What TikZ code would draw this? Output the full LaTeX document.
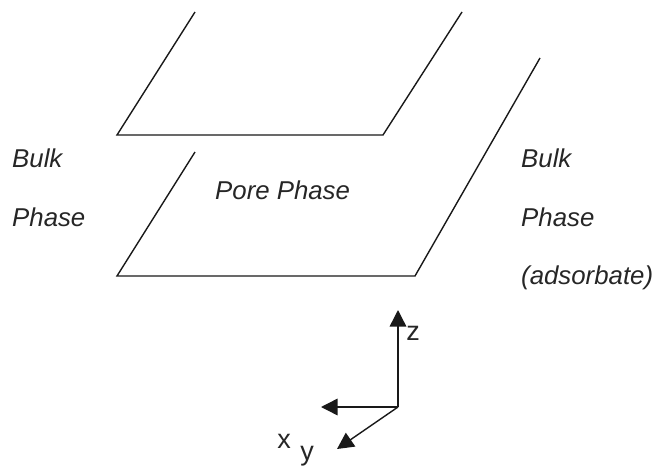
\documentclass[tikz,border=0pt]{standalone}
\usepackage{fontspec}
\setmainfont{Liberation Sans}
\usetikzlibrary{arrows.meta}
\tikzset{
    wall/.style={line width=1.4pt, black!90},
    axis/.style={line width=1.4pt, black!90, -{Triangle[length=16.5pt,width=16.5pt]}},
    phase/.style={anchor=base west, inner sep=0pt, font=\fontsize{25.8}{25.8}\selectfont\itshape, black!85},
    axlabel/.style={inner sep=0pt, font=\fontsize{27}{27}\selectfont, black!85}
}
\begin{document}
\begin{tikzpicture}[x=1pt, y=-1pt]
    \useasboundingbox (0,0) rectangle (654,466);

    % Upper wall
    \coordinate (upleft) at (195,12);
    \coordinate (upfront) at (117,135);
    \coordinate (upback) at (383,135);
    \coordinate (upright) at (462,12);
    \draw[wall] (upleft) -- (upfront) -- (upback) -- (upright);

    % Lower wall
    \coordinate (lowleft) at (195,152);
    \coordinate (lowfront) at (117,276);
    \coordinate (lowback) at (415,276);
    \coordinate (lowright) at (540,58);
    \draw[wall] (lowleft) -- (lowfront) -- (lowback) -- (lowright);

    % Phase labels
    \node[phase] (bulkl) at (12,167) {Bulk};
    \node[phase] (phasel) at (12,226) {Phase};
    \node[phase] (pore) at (215,199) {Pore Phase};
    \node[phase] (bulkr) at (521,167) {Bulk};
    \node[phase] (phaser) at (521,226) {Phase};
    \node[phase] (adsorbate) at (521,284) {(adsorbate)};

    % Axes
    \coordinate (origin) at (398,407);
    \coordinate (ztip) at (398,310);
    \coordinate (xtip) at (321,407);
    \coordinate (ytip) at (337,449);
    \draw[axis] (origin) -- (ztip);
    \draw[axis] (origin) -- (xtip);
    \draw[axis] (origin) -- (ytip);

    % Axis labels
    \node[axlabel] (zlabel) at (413,333) {z};
    \node[axlabel] (xlabel) at (284,441) {x};
    \node[axlabel] (ylabel) at (307,456) {y};
\end{tikzpicture}
\end{document}
